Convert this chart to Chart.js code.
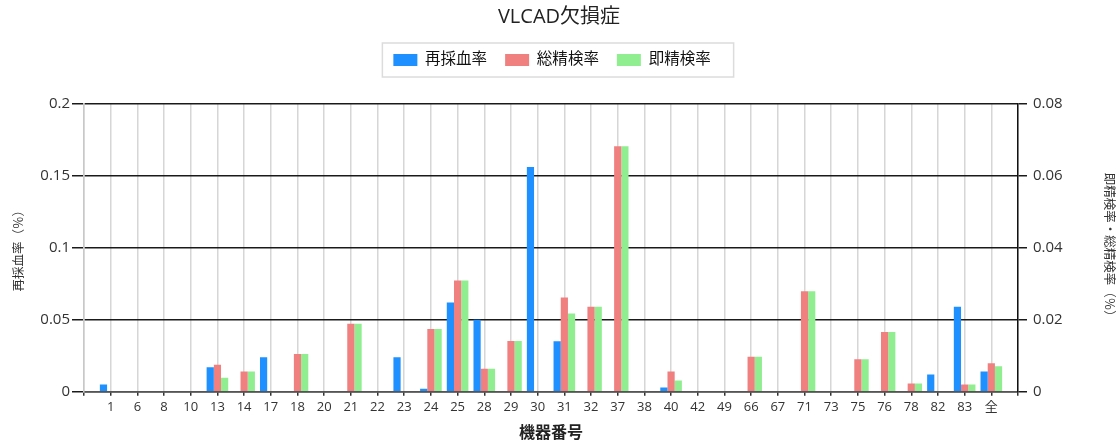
<!DOCTYPE html>
<html><head><meta charset="utf-8">
<script src="https://cdn.jsdelivr.net/npm/chart.js@4.4.0/dist/chart.umd.min.js"></script>
<style>html,body{margin:0;padding:0;background:#fff}#wrap{width:1118px;height:441px}</style>
</head><body><div id="wrap"><canvas id="c" width="1118" height="441"></canvas></div>
<script>
const categories = ['1','6','8','10','13','14','17','18','20','21','22','23','24','25','28','29','30','31','32','37','38','40','42','49','66','67','71','73','75','76','78','82','83','全'];
const recollect = [0.005,0,0,0,0.017,0,0.024,0,0,0,0,0.024,0.002,0.062,0.050,0,0.156,0.035,0,0,0,0.003,0,0,0,0,0,0,0,0,0,0.012,0.059,0.014];
const totalExam = [0,0,0,0,0.0075,0.0056,0,0.0105,0,0.0189,0,0,0.0174,0.0309,0.0064,0.0141,0,0.0262,0.0236,0.0682,0,0.0056,0,0,0.0097,0,0.0279,0,0.0090,0.0166,0.0023,0,0.0020,0.0079];
const immExam = [0,0,0,0,0.0039,0.0056,0,0.0105,0,0.0189,0,0,0.0174,0.0309,0.0064,0.0141,0,0.0217,0.0236,0.0682,0,0.0031,0,0,0.0097,0,0.0279,0,0.0090,0.0166,0.0023,0,0.0020,0.0071];
const leftTicks = [0,0.05,0.1,0.15,0.2];
const rightTicks = [0,0.02,0.04,0.06,0.08];

const pad = a => [null, ...a, null];
const FONT = "'Open Sans','Noto Sans CJK JP',sans-serif";
const LEGEND_SHIFT = -7;

const legendSpacer = {
  id:'legendSpacer',
  beforeInit(chart){
    const lg = chart.legend;
    const origFit = lg.fit;
    lg.fit = function(){ origFit.bind(lg)(); this.height += 26; };
    const origDraw = lg.draw;
    lg.draw = function(){
      const ctx = chart.ctx;
      ctx.save();
      ctx.translate(LEGEND_SHIFT, 0);
      origDraw.bind(lg)();
      ctx.restore();
    };
  }
};
const legendBorder = {
  id:'legendBorder',
  afterDraw(chart){
    const hb = chart.legend.legendHitBoxes;
    if(!hb || !hb.length) return;
    const first = hb[0], last = hb[hb.length-1];
    const cy = first.top + first.height/2;
    const l = first.left - 11 + LEGEND_SHIFT;
    const r = last.left + last.width + 23 + LEGEND_SHIFT;
    const ctx = chart.ctx;
    ctx.save();
    ctx.strokeStyle = '#dcdcdc';
    ctx.lineWidth = 1.5;
    ctx.strokeRect(l, cy - 17, r - l, 34);
    ctx.restore();
  }
};

new Chart(document.getElementById('c'), {
  type:'bar',
  data:{
    labels: pad(categories).map(v => v === null ? '' : v),
    datasets:[
      {label:'再採血率', data:pad(recollect), backgroundColor:'#1E90FF', yAxisID:'y'},
      {label:'総精検率', data:pad(totalExam), backgroundColor:'#F08080', yAxisID:'y1'},
      {label:'即精検率', data:pad(immExam), backgroundColor:'#90EE90', yAxisID:'y1'}
    ]
  },
  plugins:[legendSpacer, legendBorder],
  options:{
    responsive:false,
    animation:false,
    layout:{padding:0},
    datasets:{bar:{categoryPercentage:0.81, barPercentage:1.0, borderWidth:0}},
    plugins:{
      tooltip:{enabled:false},
      title:{display:true, text:'VLCAD欠損症', color:'#222', font:{family:FONT, size:20, weight:'normal', lineHeight:1.2}, padding:{top:5,bottom:5.25}},
      legend:{display:true, labels:{boxWidth:24, boxHeight:12, padding:18, color:'#111', font:{family:FONT, size:15.5}}}
    },
    scales:{
      x:{
        offset:false,
        grid:{offset:false, color:'#d6d6d6', lineWidth:1.5, tickColor:'#333', tickLength:4, drawTicks:true},
        border:{color:'#555', width:1.5},
        ticks:{autoSkip:false, maxRotation:0, color:'#333', font:{family:FONT, size:13}, padding:4},
        title:{display:true, text:'機器番号', color:'#222', font:{family:FONT, size:16, weight:'bold', lineHeight:1.0}, padding:{top:0,bottom:0}},
        afterFit(s){ s.height = 49.3; }
      },
      y:{
        position:'left', min:0, max:0.2,
        afterBuildTicks(s){ s.ticks = leftTicks.map(v => ({value:v})); },
        grid:{color:'#1a1a1a', lineWidth:1.5, tickLength:12, drawTicks:true},
        border:{color:'#c8c8c8', width:1.5},
        ticks:{color:'#333', font:{family:FONT, size:15}, padding:2, callback:v => String(v)},
        title:{display:true, text:'再採血率（％）', color:'#333', font:{family:FONT, size:12.5}, padding:{top:12,bottom:0}},
        afterFit(s){ s.width = 84; }
      },
      y1:{
        position:'right', min:0, max:0.08,
        afterBuildTicks(s){ s.ticks = rightTicks.map(v => ({value:v})); },
        grid:{drawOnChartArea:false, color:'#1a1a1a', lineWidth:1.5, tickLength:9, drawTicks:true},
        border:{color:'#111', width:1.5},
        ticks:{color:'#333', font:{family:FONT, size:15}, padding:6, callback:v => String(v)},
        title:{display:true, text:'即精検率・総精検率（％）', color:'#333', font:{family:FONT, size:12.5}, padding:{top:2,bottom:2}},
        afterFit(s){ s.width = 100; }
      }
    }
  }
});
</script></body></html>
